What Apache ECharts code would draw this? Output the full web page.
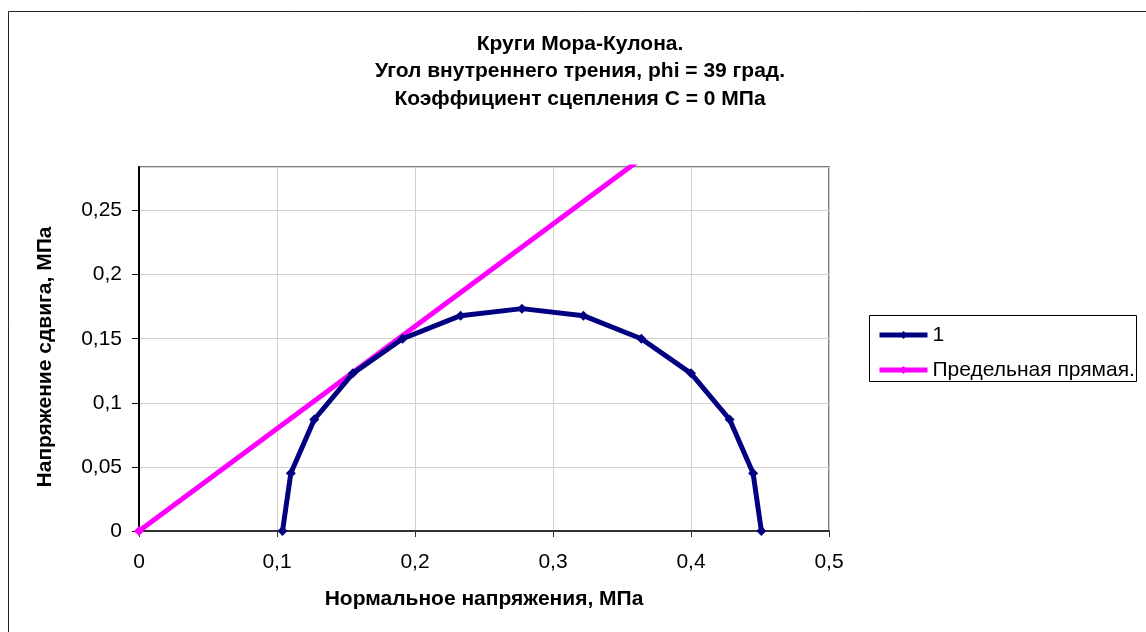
<!DOCTYPE html>
<html>
<head>
<meta charset="utf-8">
<script src="https://cdn.jsdelivr.net/npm/echarts@6/dist/echarts.min.js"></script>
<style>
  html, body { margin: 0; padding: 0; background: #fff; }
  #chart { width: 1146px; height: 632px; }
</style>
</head>
<body>
<div id="chart"></div>
<script>
// Mohr circle points (normal stress, shear stress), MPa
const circleX = [0.104, 0.110, 0.127, 0.155, 0.191, 0.233, 0.2775, 0.322, 0.364, 0.400, 0.428, 0.445, 0.451];
const circleY = [0, 0.045, 0.087, 0.123, 0.150, 0.168, 0.1735, 0.168, 0.150, 0.123, 0.087, 0.045, 0];
// limit line (phi = 39 deg, C = 0)
const limitX = [0, 0.362];
const limitY = [0, 0.289];

const seriesNames = ['1', 'Предельная прямая.'];
const titleLines = [
  'Круги Мора-Кулона.',
  'Угол внутреннего трения, phi = 39 град.',
  'Коэффициент сцепления С = 0 МПа'
];
const xName = 'Нормальное напряжения, МПа';
const yName = 'Напряжение сдвига, МПа';

const font = 'Arial, "Liberation Sans", sans-serif';
const fmt = (v) => String(+v.toFixed(3)).replace('.', ',');

const chart = echarts.init(document.getElementById('chart'));

const option = {
  backgroundColor: '#fff',
  animation: false,
  title: {
    text: titleLines.join('\n'),
    left: 575,
    textAlign: 'center',
    top: 25,
    textStyle: { fontFamily: font, fontSize: 21, fontWeight: 'bold', color: '#000', lineHeight: 27.5 }
  },
  graphic: [
    {
      type: 'rect',
      shape: { x: 8.5, y: 11.5, width: 1200, height: 700 },
      style: { fill: 'none', stroke: '#222', lineWidth: 1 },
      silent: true
    },
    {
      type: 'rect',
      shape: { x: 869.5, y: 315.5, width: 267, height: 66 },
      style: { fill: '#fff', stroke: '#000', lineWidth: 1 },
      silent: true,
      z: -1
    }
  ],
  legend: {
    orient: 'vertical',
    left: 877,
    top: 323,
    padding: 0,
    itemWidth: 48,
    itemHeight: 10,
    itemGap: 11,
    lineStyle: { width: 5 },
    textStyle: { fontFamily: font, fontSize: 21, color: '#000', lineHeight: 24 },
    data: seriesNames
  },
  grid: {
    left: 139,
    top: 167,
    right: 317,
    bottom: 101,
    show: true,
    borderColor: '#808080',
    borderWidth: 2
  },
  xAxis: {
    type: 'value',
    min: 0,
    max: 0.5,
    interval: 0.1,
    name: xName,
    nameLocation: 'middle',
    nameGap: 58,
    nameTextStyle: { fontFamily: font, fontSize: 21, fontWeight: 'bold', color: '#000' },
    axisLine: { show: true, onZero: false, lineStyle: { color: '#333', width: 2 } },
    axisTick: { show: true, length: 6, lineStyle: { color: '#333' } },
    axisLabel: { fontFamily: font, fontSize: 21, color: '#000', margin: 21, formatter: fmt },
    splitLine: { show: true, lineStyle: { color: '#d0d0d0', width: 1 } }
  },
  yAxis: {
    type: 'value',
    min: 0,
    max: 0.284,
    interval: 0.05,
    name: yName,
    nameLocation: 'middle',
    nameGap: 83,
    nameTextStyle: { fontFamily: font, fontSize: 21, fontWeight: 'bold', color: '#000', padding: [0, 16, 0, 0] },
    axisLine: { show: true, onZero: false, lineStyle: { color: '#000', width: 2 } },
    axisTick: { show: true, length: 7, lineStyle: { color: '#000' } },
    axisLabel: { fontFamily: font, fontSize: 21, color: '#000', margin: 17, formatter: fmt, showMaxLabel: false },
    splitLine: { show: true, lineStyle: { color: '#d0d0d0', width: 1 } }
  },
  series: [
    {
      name: seriesNames[0],
      type: 'line',
      data: circleX.map((x, i) => [x, circleY[i]]),
      symbol: 'diamond',
      symbolSize: 10,
      lineStyle: { color: '#000080', width: 5 },
      itemStyle: { color: '#000080' },
      z: 3
    },
    {
      name: seriesNames[1],
      type: 'line',
      data: limitX.map((x, i) => [x, limitY[i]]),
      symbol: 'diamond',
      symbolSize: 10,
      clip: true,
      lineStyle: { color: '#ff00ff', width: 5 },
      itemStyle: { color: '#ff00ff' },
      z: 2
    }
  ]
};

chart.setOption(option);
</script>
</body>
</html>
